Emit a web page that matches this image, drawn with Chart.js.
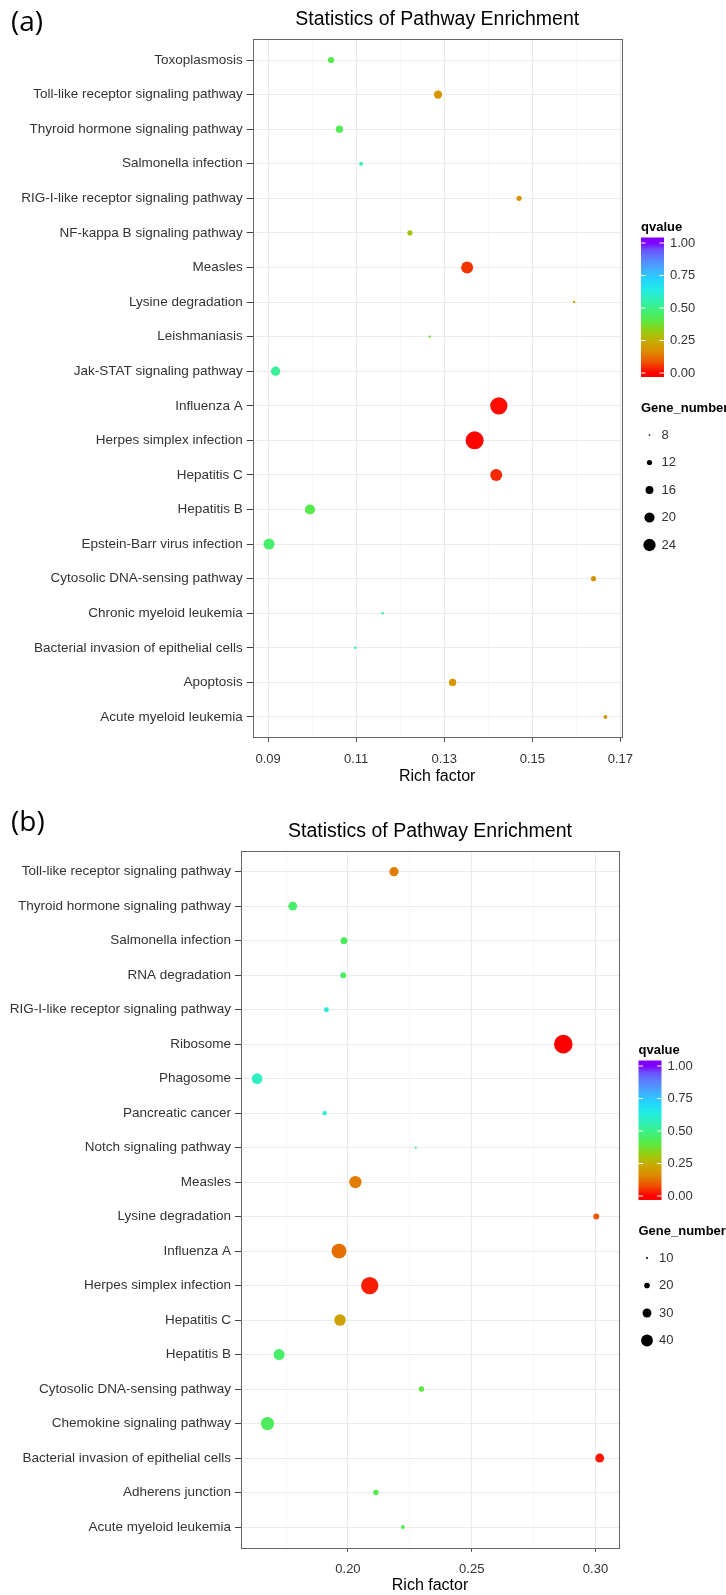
<!DOCTYPE html>
<html>
<head>
<meta charset="utf-8">
<script src="https://cdn.jsdelivr.net/npm/chart.js@4.4.1/dist/chart.umd.min.js"></script>
<style>
  body { margin: 0; background: #fff; }
  canvas { display: block; }
</style>
</head>
<body>
<canvas id="chartA" width="726" height="790"></canvas>
<canvas id="chartB" width="726" height="805"></canvas>
<script>
// ---- panel (a) data, listed top to bottom ----
var pathwaysA = ["Toxoplasmosis", "Toll-like receptor signaling pathway", "Thyroid hormone signaling pathway",
    "Salmonella infection", "RIG-I-like receptor signaling pathway", "NF-kappa B signaling pathway", "Measles",
    "Lysine degradation", "Leishmaniasis", "Jak-STAT signaling pathway", "Influenza A", "Herpes simplex infection",
    "Hepatitis C", "Hepatitis B", "Epstein-Barr virus infection", "Cytosolic DNA-sensing pathway",
    "Chronic myeloid leukemia", "Bacterial invasion of epithelial cells", "Apoptosis", "Acute myeloid leukemia"];
var richA = [0.1043, 0.1286, 0.1062, 0.1111, 0.1470, 0.1222, 0.1352, 0.1595, 0.1267, 0.0917,
    0.1424, 0.1369, 0.1418, 0.0995, 0.0902, 0.1639, 0.1160, 0.1098, 0.1319, 0.1666];
var qvalueA = [0.42, 0.19, 0.43, 0.55, 0.18, 0.30, 0.05, 0.25, 0.38, 0.52,
    0.01, 0.005, 0.04, 0.42, 0.46, 0.18, 0.58, 0.58, 0.19, 0.19];
var genesA = [11, 13, 12, 9, 10, 10, 17, 8, 8, 14, 24, 25, 17, 15, 16, 10, 8, 8, 12, 9];
var xTicksA = [0.09, 0.11, 0.13, 0.15, 0.17];
var geneLegendA = [8, 12, 16, 20, 24];

// ---- panel (b) data, listed top to bottom ----
var pathwaysB = ["Toll-like receptor signaling pathway", "Thyroid hormone signaling pathway", "Salmonella infection",
    "RNA degradation", "RIG-I-like receptor signaling pathway", "Ribosome", "Phagosome", "Pancreatic cancer",
    "Notch signaling pathway", "Measles", "Lysine degradation", "Influenza A", "Herpes simplex infection",
    "Hepatitis C", "Hepatitis B", "Cytosolic DNA-sensing pathway", "Chemokine signaling pathway",
    "Bacterial invasion of epithelial cells", "Adherens junction", "Acute myeloid leukemia"];
var richB = [0.2186, 0.1777, 0.1984, 0.1981, 0.1913, 0.2870, 0.1633, 0.1906, 0.2274, 0.2030,
    0.3003, 0.1964, 0.2088, 0.1968, 0.1722, 0.2297, 0.1675, 0.3017, 0.2113, 0.2222];
var qvalueB = [0.14, 0.46, 0.44, 0.45, 0.62, 0.0, 0.58, 0.62, 0.55, 0.14,
    0.09, 0.12, 0.03, 0.22, 0.46, 0.40, 0.44, 0.02, 0.42, 0.42];
var genesB = [23, 22, 18, 16, 14, 45, 26, 13, 9, 30, 16, 36, 42, 28, 27, 15, 32, 22, 15, 12];
var xTicksB = [0.20, 0.25, 0.30];
var geneLegendB = [10, 20, 30, 40];

var qTicks = [0, 0.25, 0.5, 0.75, 1];

Chart.defaults.font.family = "'Liberation Sans', Arial, sans-serif";

// rainbow scale used for qvalue
var qStops = [[0, '#ff0000'], [0.08, '#ee5000'], [0.16, '#dd8a00'], [0.24, '#c8aa00'], [0.32, '#98cc10'],
    [0.40, '#5ce840'], [0.48, '#40f078'], [0.56, '#30f0b4'], [0.64, '#22ece4'], [0.72, '#22d4ff'],
    [0.80, '#44acff'], [0.88, '#5a80ff'], [0.95, '#6c50ff'], [1, '#8000ff']];

function hexRgb(h) {
    return [parseInt(h.substr(1, 2), 16), parseInt(h.substr(3, 2), 16), parseInt(h.substr(5, 2), 16)];
}

function qColor(q) {
    for (var i = 1; i < qStops.length; i++) {
        if (q <= qStops[i][0]) {
            var a = qStops[i - 1], b = qStops[i];
            var t = (q - a[0]) / (b[0] - a[0]);
            var ca = hexRgb(a[1]), cb = hexRgb(b[1]);
            var c = ca.map(function (v, k) { return Math.round(v + (cb[k] - v) * t); });
            return "rgb(" + c[0] + "," + c[1] + "," + c[2] + ")";
        }
    }
    return qStops[qStops.length - 1][1];
}

// key diameter in px for a gene count
function sizeA(v) { return 1.7 * Math.pow(v - 7, 0.7); }
function sizeB(v) { return 0.633 * Math.pow(v - 6, 0.83); }

var panelPlugin = {
    id: 'panel',
    afterDraw: function (chart, args, o) {
        var ctx = chart.ctx, a = chart.chartArea;
        ctx.save();

        ctx.strokeStyle = '#666';
        ctx.lineWidth = 1;
        ctx.strokeRect(Math.round(a.left) + 0.5, Math.round(a.top) + 0.5,
            Math.round(a.right - a.left), Math.round(a.bottom - a.top));

        ctx.fillStyle = '#000';
        ctx.textBaseline = 'middle';
        ctx.textAlign = 'left';
        ctx.font = "28px 'Open Sans'";
        ctx.fillText(o.tag, 11, o.tagY);

        ctx.textAlign = 'center';
        ctx.font = "19.5px 'Liberation Sans'";
        ctx.fillText(o.title, (a.left + a.right) / 2, o.titleY);

        // colour bar
        var L = o.legendX, barTop = o.legendY + 10.5, barBot = barTop + 139.5;
        var y1 = barTop + 5.5, y0 = barBot - 4;
        ctx.textAlign = 'left';
        ctx.font = "bold 13px 'Liberation Sans'";
        ctx.fillText('qvalue', L, o.legendY);
        var g = ctx.createLinearGradient(0, y0, 0, y1);
        qStops.forEach(function (s) { g.addColorStop(s[0], s[1]); });
        ctx.fillStyle = g;
        ctx.fillRect(L, barTop, 23, barBot - barTop);
        ctx.strokeStyle = '#fff';
        ctx.font = "13px 'Liberation Sans'";
        qTicks.forEach(function (q) {
            var y = y0 + (y1 - y0) * q;
            ctx.beginPath();
            ctx.moveTo(L, y); ctx.lineTo(L + 4.5, y);
            ctx.moveTo(L + 18.5, y); ctx.lineTo(L + 23, y);
            ctx.stroke();
            ctx.fillStyle = '#333';
            ctx.fillText(q.toFixed(2), L + 29, y);
        });

        // gene number key
        var gy = o.legendY + 181;
        ctx.fillStyle = '#000';
        ctx.font = "bold 13px 'Liberation Sans'";
        ctx.fillText('Gene_number', L, gy);
        ctx.font = "13px 'Liberation Sans'";
        o.keys.forEach(function (v, i) {
            var y = gy + 27 + i * 27.5;
            ctx.fillStyle = '#000';
            ctx.beginPath();
            ctx.arc(L + 8.5, y, o.sizeFn(v) / 2, 0, Math.PI * 2);
            ctx.fill();
            ctx.fillStyle = '#333';
            ctx.fillText(String(v), L + 20.5, y);
        });
        ctx.restore();
    }
};

function minorBreaks(majors, min, max) {
    var step = majors[1] - majors[0], out = [];
    for (var v = majors[0] - step / 2; v <= max; v += step) {
        if (v >= min) out.push({ value: v, minor: true });
    }
    return out;
}

function buildChart(id, p) {
    var n = p.labels.length;
    return new Chart(document.getElementById(id), {
        type: 'scatter',
        data: {
            datasets: [{
                data: p.rich.map(function (x, i) { return { x: x, y: i }; }),
                pointRadius: p.genes.map(function (v) { return 0.7 * p.sizeFn(v); }),
                pointHoverRadius: p.genes.map(function (v) { return 0.7 * p.sizeFn(v); }),
                pointBackgroundColor: p.q.map(qColor),
                pointBorderWidth: 0
            }]
        },
        options: {
            responsive: false,
            animation: false,
            devicePixelRatio: 1,
            layout: { padding: { top: p.top, right: p.right, left: 0, bottom: 0 } },
            plugins: {
                legend: { display: false },
                tooltip: { enabled: false },
                panel: { tag: p.tag, tagY: p.tagY, title: 'Statistics of Pathway Enrichment', titleY: p.titleY,
                    legendX: p.legendX, legendY: p.legendY, keys: p.keys, sizeFn: p.sizeFn }
            },
            scales: {
                x: {
                    type: 'linear',
                    min: p.xMin,
                    max: p.xMax,
                    afterFit: function (s) { s.height = p.xHeight; },
                    afterBuildTicks: function (s) {
                        var t = p.xTicks.map(function (v) { return { value: v }; })
                            .concat(minorBreaks(p.xTicks, p.xMin, p.xMax));
                        t.sort(function (a, b) { return a.value - b.value; });
                        s.ticks = t;
                    },
                    ticks: {
                        autoSkip: false, maxRotation: 0, padding: 9.5, color: '#333',
                        font: { size: 13 },
                        callback: function (v, i, t) { return t[i].minor ? '' : v.toFixed(2); }
                    },
                    grid: {
                        tickLength: 4,
                        color: function (c) { return c.tick && c.tick.minor ? '#f2f2f2' : '#ebebeb'; },
                        lineWidth: function (c) { return c.tick && c.tick.minor ? 0.6 : 1; },
                        tickColor: function (c) { return c.tick && c.tick.minor ? 'rgba(0,0,0,0)' : '#444'; }
                    },
                    border: { display: false },
                    title: { display: true, text: 'Rich factor', color: '#000', font: { size: 16 },
                        padding: { top: 0, bottom: p.titlePad } }
                },
                y: {
                    type: 'linear',
                    min: -0.6,
                    max: n - 0.4,
                    reverse: true,
                    afterFit: function (s) { s.width = p.yWidth; },
                    afterBuildTicks: function (s) {
                        s.ticks = p.labels.map(function (l, i) { return { value: i }; });
                    },
                    ticks: {
                        autoSkip: false, padding: 4, color: '#333',
                        font: { size: 13.5 },
                        callback: function (v) { return p.labels[v]; }
                    },
                    grid: { tickLength: 6, color: '#ebebeb', tickColor: '#444' },
                    border: { display: false }
                }
            }
        },
        plugins: [panelPlugin]
    });
}

buildChart('chartA', {
    labels: pathwaysA, rich: richA, q: qvalueA, genes: genesA, sizeFn: sizeA,
    xTicks: xTicksA, xMin: 0.0865, xMax: 0.1703, keys: geneLegendA,
    top: 39.3, right: 104.3, yWidth: 252.7, xHeight: 52.3, titlePad: 4,
    tag: '(a)', tagY: 23, titleY: 20, legendX: 641, legendY: 227
});

buildChart('chartB', {
    labels: pathwaysB, rich: richB, q: qvalueB, genes: genesB, sizeFn: sizeB,
    xTicks: xTicksB, xMin: 0.1568, xMax: 0.3095, keys: geneLegendB,
    top: 61, right: 107, yWidth: 241, xHeight: 47.3, titlePad: 0,
    tag: '(b)', tagY: 33, titleY: 42, legendX: 638.5, legendY: 260
});
</script>
</body>
</html>
